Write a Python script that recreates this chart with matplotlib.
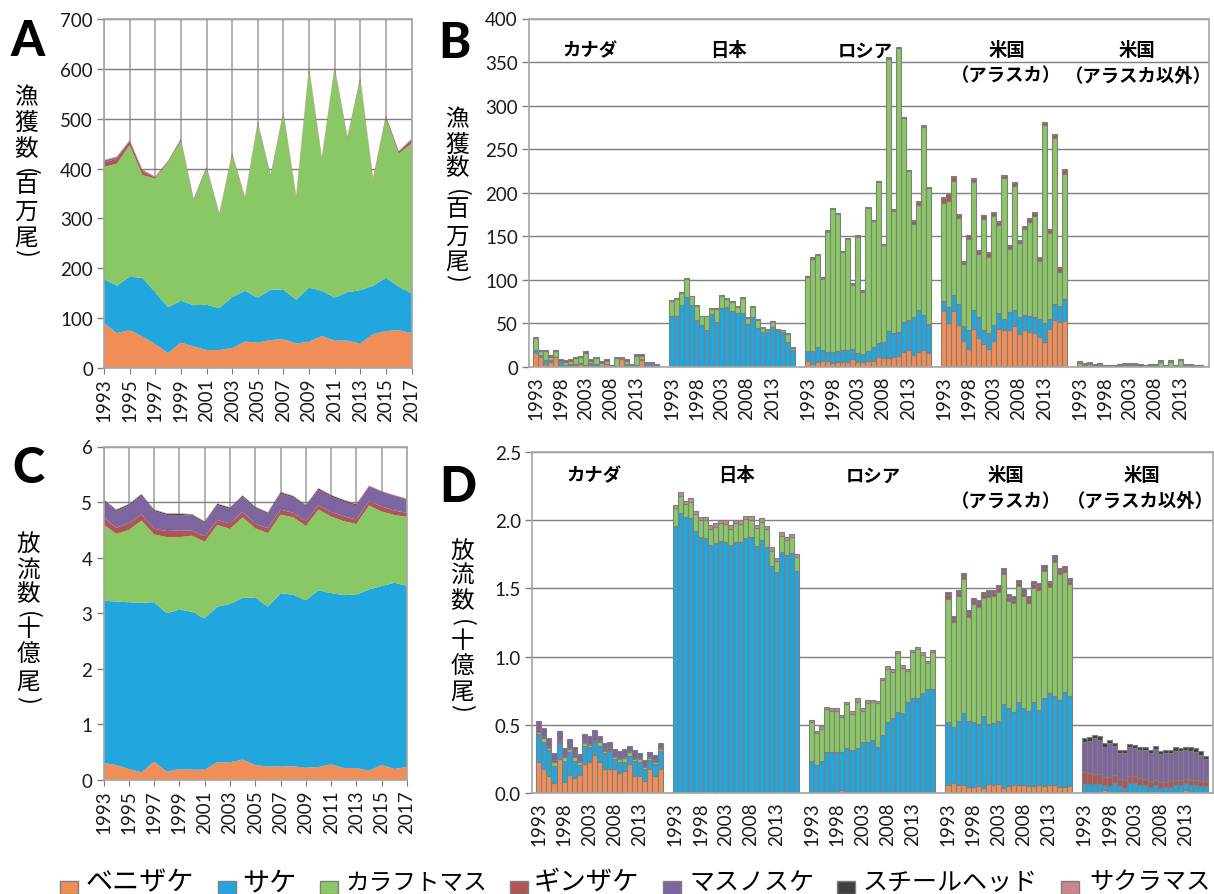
import numpy as np
import matplotlib
matplotlib.use('Agg')
import matplotlib.pyplot as plt
from matplotlib.patches import Rectangle

W, H = 1214, 895
JP = 'Noto Sans CJK JP'
plt.rcParams['font.family'] = ['Lato', JP, 'DejaVu Sans']

years = list(range(1993, 2018))

species = ['ベニザケ', 'サケ', 'カラフトマス', 'ギンザケ', 'マスノスケ', 'スチールヘッド', 'サクラマス']
colors = ['#F18D56', '#21A7DE', '#8AC765', '#B05555', '#7E659F', '#404040', '#C9878B']
GRAY = '#7f7f7f'
GRID = '#a6a6a6'

# panel A, catch by species, all countries (millions)
a_sockeye = [90, 70, 76, 63, 48, 30, 51, 43, 36, 36, 40, 53, 51, 56, 58, 49, 53, 64, 55, 55, 49, 68, 74, 76, 70]
a_chum = [88, 95, 107, 118, 104, 92, 84, 83, 91, 84, 102, 102, 90, 101, 99, 88, 108, 91, 86, 97, 107, 97, 107, 87, 80]
a_pink = [225, 245, 264, 206, 228, 290, 320, 210, 273, 187, 285, 185, 349, 228, 353, 206, 439, 263, 459, 308, 421, 212, 319, 267, 300]
a_coho = [9, 10, 8, 8, 2, 2, 3, 2, 3, 2, 3, 2, 3, 2, 3, 2, 3, 3, 3, 3, 4, 3, 5, 4, 8]
a_chinook = [4, 3, 1, 2, 1, 1, 1, .5, .5, .5, .5, .5, .5, .5, .5, .5, .5, .5, .5, .5, .5, .5, .5, .5, .5]
a_steelhead = [.2] * 25
a_masu = [1, 1, 1, 1, 1, 1, 1, .8, .8, .8, .8, .8, .8, .8, .8, .8, .8, .8, .8, .8, .8, .8, .8, .8, 1]

# panel C, release by species (billions)
c_sockeye = [.306, .27, .198, .138, .33, .15, .198, .186, .186, .318, .318, .366, .27, .24, .246, .246, .222, .234, .282, .216, .216, .168, .27, .198, .234]
c_chum = [2.92, 2.94, 3.00, 3.05, 2.87, 2.85, 2.87, 2.84, 2.72, 2.80, 2.85, 2.91, 3.01, 2.88, 3.11, 3.09, 3.01, 3.18, 3.08, 3.11, 3.12, 3.26, 3.22, 3.35, 3.26]
c_pink = [1.37, 1.22, 1.30, 1.48, 1.22, 1.37, 1.30, 1.37, 1.38, 1.47, 1.35, 1.45, 1.25, 1.32, 1.42, 1.39, 1.34, 1.45, 1.38, 1.33, 1.27, 1.51, 1.34, 1.22, 1.24]
c_coho = [.13, .11, .12, .11, .10, .11, .12, .09, .10, .09, .10, .10, .08, .09, .09, .08, .09, .08, .08, .09, .08, .08, .09, .08, .07]
c_chinook = [.30, .30, .32, .34, .32, .29, .28, .27, .24, .27, .26, .27, .28, .26, .29, .28, .26, .28, .28, .27, .25, .26, .26, .26, .24]
c_steelhead = [.02, .02, .02, .02, .02, .02, .02, .02, .02, .02, .02, .02, .02, .02, .02, .02, .02, .02, .02, .02, .02, .01, .01, .01, .01]
c_masu = [.01] * 25

# panel B, catch by country
b_can_sockeye = [16, 11, 4, 6, 11, 1, 1, 2, 2, 3, 1, 2, 1, .5, 3, .3, 1, 9, 1, .3, 1, 8, 1, 1, .3]
b_can_chum = [4, 3, 4, 2, 1, 5, 1, 1, 1, 2, 1, 3, 3, 1, 1, .5, .5, .5, 2, .5, 1, 1, 2, 2, 1]
b_can_pink = [13, 4, 10, 4, 6, 1, 4, 4, 7, 6, 14, 2, 6, 3.5, 3, .5, 8.5, .5, 4, 1.5, 11, 4, 1.5, 1.5, 1.5]
b_can_coho = [2, 2, 2, 2, 2, 2, 2, 2, 2, 2, 2, 2, 2, 2, 2, .7, 2, 2, 2, .7, 2, 2, 1.5, 1.5, 1.2]

b_jpn_chum = [58, 58, 71, 80, 71, 54, 48, 42, 61, 52, 68, 69, 64, 62, 62, 49, 57, 45, 40, 40, 46, 41, 40, 29, 20]
b_jpn_pink = [18, 20, 14, 21, 10, 16, 10, 16, 6, 15, 14, 9, 11, 7, 17, 7, 12, 9, 5, 3, 6, 2, 2, 9, 2]
b_jpn_masu = [1, 1, 1, 1, 1, 1, 1, 1, 1, 1, 1, 1, 1, 1, 1, 1, 1, 1, 1, 1, 1, 1, 1, 1, 1]

b_rus_sockeye = [7, 4, 6, 7, 6.5, 5, 6, 6, 6, 9, 6, 6, 7, 7, 11, 10, 10, 11, 13, 17, 19, 14, 17, 20, 16]
b_rus_chum = [11, 14, 17, 13, 10.5, 12, 12, 14, 13, 12, 10, 9, 11, 16, 16, 19, 31, 28, 27, 35, 35, 43, 48, 40, 33]
b_rus_pink = [85.5, 106.5, 105.5, 81.5, 138.5, 164.5, 157.5, 111.5, 127.5, 73.5, 133.5, 71.5, 164.5, 144.5, 185.5, 110.5, 313, 140.5, 326, 234, 171, 107, 121, 216, 156]
b_rus_coho = [.5, .5, .5, .5, .5, .5, .5, .5, .5, .5, .5, .5, .5, .5, .5, .5, .5, .5, .5, .5, .5, 4, 3, 1, 1]
b_rus_masu = [1, 1, 1, 1, 1, 1, 1, 1, 1, 1, 1, 1, 1, 1, 1, 1, 1, 1, 1, 1, 1, 1, 1, 1, 1]

b_ala_sockeye = [64, 51, 64, 48, 30, 21, 44, 33, 26, 21, 30, 44, 42, 42, 47, 38, 42, 40, 39, 34, 29, 44, 54, 52, 53]
b_ala_chum = [12, 17.5, 19, 24, 17, 21, 21, 24, 16, 17.6, 18, 17.6, 12.6, 21, 18, 19, 18, 19, 18, 21, 21.5, 11.4, 18, 17.6, 25]
b_ala_pink = [112, 122, 130, 99, 71, 105, 147, 73, 128, 88, 125, 101, 162, 73, 143, 85, 98, 107, 116, 67, 227, 98, 191, 39, 144]
b_ala_coho = [6, 8, 5, 4, 3, 4, 4, 3, 4, 4, 4, 4, 3, 3, 3, 3, 3, 4, 4, 3, 3, 4, 3, 5, 4]
b_ala_chinook = [1, 1, 1, 1, 1, 1, 1, 1, 1, 1, 1, 1, 1, 1, 1, 1, 1, 1, 1, 1, 1, 1, 1, 1, 1]

b_usa_chum = [1.5, 1, 1, .5, .5, .5, .2, .2, .5, .5, .5, .5, .5, .5, .5, .5, .5, .5, .5, .5, .5, .5, .5, .5, .5]
b_usa_pink = [3, 1, 2, .5, 1.5, .5, .3, .3, 1, 1.5, 1.5, 1.5, 1, .5, 1, .5, 5.5, .5, 5, .5, 7.5, 1.5, .5, .5, .5]
b_usa_coho = [1.5, 1.5, 2, 1, 1.5, 1, 1, 1, 1.5, 1.5, 1.5, 1.5, 1.5, 1, 1.5, 1.5, 1, 1, 1.5, 1, 1, 1.5, 1.5, 1, 1]
b_usa_chinook = [1, 1, .8, 1, 1, .5, .5, .5, .5, 1, 1, 1, 1, .5, 1, .5, .5, .5, .5, .5, .5, .5, .5, .5, .5]

# panel D, release by country
d_can_sockeye = [.23, .176, .127, .071, .249, .078, .132, .110, .132, .213, .225, .279, .225, .176, .176, .176, .147, .164, .210, .127, .127, .086, .176, .127, .176]
d_can_chum = [.203, .196, .188, .129, .115, .154, .166, .127, .073, .134, .110, .093, .122, .117, .130, .073, .083, .061, .059, .105, .098, .090, .066, .086, .135]
d_can_pink = [.017, .034, .015, .029, .007, .029, .024, .024, .020, .020, .017, .012, .024, .017, .012, .012, .020, .029, .032, .017, .022, .012, .012, .017, .012]
d_can_coho = [.02, .01, .015, .01, .015, .015, .01, .015, .01, .01, .01, .005, .01, .01, .01, .008, .01, .01, .01, .01, .01, .008, .008, .012, .01]
d_can_chinook = [.057, .062, .059, .055, .067, .055, .065, .06, .052, .059, .059, .072, .036, .048, .047, .057, .047, .055, .032, .055, .037, .044, .037, .033, .035]

d_jpn_chum = [1.956, 2.051, 2.022, 2.015, 1.924, 1.875, 1.868, 1.819, 1.831, 1.851, 1.839, 1.819, 1.843, 1.843, 1.868, 1.875, 1.814, 1.856, 1.802, 1.663, 1.619, 1.765, 1.748, 1.760, 1.631]
d_jpn_pink = [.13, .13, .10, .12, .12, .13, .13, .12, .12, .13, .13, .12, .14, .13, .14, .13, .13, .13, .13, .11, .08, .12, .11, .12, .10]
d_jpn_masu = [.026, .024, .022, .026, .027, .022, .029, .027, .029, .024, .029, .027, .022, .025, .026, .029, .022, .029, .024, .029, .022, .025, .022, .022, .022]

d_rus_sockeye = [.004, .004, .004, .004, .004, .004, .02, .004, .004, .006, .004, .004, .004, .004, .006, .006, .006, .006, .006, .006, .006, .006, .006, .006, .004]
d_rus_chum = [.228, .204, .228, .299, .299, .294, .278, .326, .314, .324, .368, .368, .385, .336, .419, .512, .542, .591, .581, .659, .688, .688, .725, .757, .759]
d_rus_pink = [.29, .23, .24, .31, .30, .30, .26, .32, .26, .34, .23, .29, .28, .32, .40, .39, .34, .43, .33, .23, .34, .36, .28, .19, .27]
d_rus_masu = [.016, .019, .022, .015, .018, .023, .017, .02, .021, .024, .019, .023, .016, .017, .019, .021, .022, .017, .024, .015, .015, .017, .021, .015, .016]

d_ala_sockeye = [.06, .073, .06, .06, .046, .046, .054, .037, .066, .06, .066, .039, .054, .06, .06, .056, .054, .054, .06, .054, .06, .06, .046, .046, .05]
d_ala_chum = [.463, .409, .471, .527, .485, .477, .452, .525, .44, .453, .46, .614, .567, .532, .605, .565, .55, .611, .551, .64, .671, .654, .636, .692, .659]
d_ala_pink = [.90, .77, .91, .98, .76, .86, .86, .87, .93, .93, .95, .95, .79, .80, .85, .82, .79, .84, .88, .93, .78, .98, .92, .88, .82]
d_ala_coho = [.025, .025, .025, .025, .025, .025, .025, .025, .025, .025, .025, .025, .025, .025, .025, .025, .025, .025, .025, .025, .025, .025, .025, .025, .025]
d_ala_chinook = [.029, .024, .025, .022, .029, .022, .027, .02, .026, .023, .025, .02, .024, .026, .025, .03, .028, .027, .022, .023, .021, .027, .026, .024, .02]

d_usa_sockeye = [.005, .005, .005, .01, .02, .01, .005, .005, .015, .005, .01, .005, .01, .01, .005, .005, .005, .005, .005, .005, .02, .005, .005, .005, .005]
d_usa_chum = [.061, .061, .061, .056, .036, .04, .068, .045, .025, .068, .063, .055, .05, .036, .055, .035, .041, .041, .055, .055, .053, .055, .051, .045, .045]
d_usa_coho = [.086, .081, .076, .071, .061, .067, .061, .053, .053, .054, .049, .048, .043, .042, .038, .038, .037, .042, .033, .038, .03, .038, .037, .038, .038]
d_usa_chinook = [.224, .236, .261, .254, .222, .247, .208, .187, .197, .207, .207, .207, .212, .202, .224, .207, .207, .205, .217, .21, .212, .212, .21, .193, .161]
d_usa_steelhead = [.025] * 25

# species index -> values, one dict per country
b_groups = [
    {0: b_can_sockeye, 1: b_can_chum, 2: b_can_pink, 3: b_can_coho},
    {1: b_jpn_chum, 2: b_jpn_pink, 6: b_jpn_masu},
    {0: b_rus_sockeye, 1: b_rus_chum, 2: b_rus_pink, 3: b_rus_coho, 6: b_rus_masu},
    {0: b_ala_sockeye, 1: b_ala_chum, 2: b_ala_pink, 3: b_ala_coho, 4: b_ala_chinook},
    {1: b_usa_chum, 2: b_usa_pink, 3: b_usa_coho, 4: b_usa_chinook},
]
d_groups = [
    {0: d_can_sockeye, 1: d_can_chum, 2: d_can_pink, 3: d_can_coho, 4: d_can_chinook},
    {1: d_jpn_chum, 2: d_jpn_pink, 6: d_jpn_masu},
    {0: d_rus_sockeye, 1: d_rus_chum, 2: d_rus_pink, 6: d_rus_masu},
    {0: d_ala_sockeye, 1: d_ala_chum, 2: d_ala_pink, 3: d_ala_coho, 4: d_ala_chinook},
    {0: d_usa_sockeye, 1: d_usa_chum, 3: d_usa_coho, 4: d_usa_chinook, 5: d_usa_steelhead},
]

GROUP_STEP = 27  # 25 years plus the blank categories between countries

fig = plt.figure(figsize=(W / 100, H / 100), dpi=100)


def px_axes(left, top, right, bottom):
    return fig.add_axes([left / W, 1 - bottom / H, (right - left) / W, (bottom - top) / H])


def px_text(x, y, s, **kw):
    kw.setdefault('ha', 'center')
    kw.setdefault('va', 'center')
    kw.setdefault('family', [JP, 'DejaVu Sans'])
    return fig.text(x / W, 1 - y / H, s, **kw)


def vertical_label(x, chars, ys):
    # the source has upright kanji with turned brackets, so one text per sign
    for ch, y in zip(chars, ys):
        px_text(x, y, ch, fontsize=17, color='black', rotation=270 if ch in '()' else 0)


def style_axes(ax, ticks, fmt=None):
    ax.set_yticks(ticks)
    if fmt:
        ax.set_yticklabels([fmt % t for t in ticks])
    ax.set_ylim(ticks[0], ticks[-1])
    ax.tick_params(axis='y', length=5, color=GRAY, width=1, labelsize=13.5, pad=3, labelcolor='#1a1a1a')
    ax.grid(axis='y', color=GRAY, lw=1)
    ax.set_axisbelow(True)
    for s in ax.spines.values():
        s.set_color(GRID)
        s.set_linewidth(1.2)


def area_panel(box, stacks, ticks):
    ax = px_axes(*box)
    ax.stackplot(years, stacks, colors=colors, lw=0)
    ax.set_xlim(1993, 2017)
    style_axes(ax, ticks)
    ax.set_xticks(years[::2])
    ax.set_xticklabels(years[::2], rotation=90)
    ax.tick_params(axis='x', length=4, color=GRAY, labelsize=13.5, pad=3, labelcolor='#1a1a1a')
    ax.grid(axis='x', color=GRID, lw=1.2)
    return ax


def bar_panel(box, groups, ticks, xlim, fmt=None):
    ax = px_axes(*box)
    for g, group in enumerate(groups):
        x = np.arange(25) + g * GROUP_STEP
        bottom = np.zeros(25)
        for idx in sorted(group):
            vals = np.array(group[idx], dtype=float)
            ax.bar(x, vals, bottom=bottom, width=1.0, color=colors[idx], edgecolor=GRAY, linewidth=0.8)
            bottom += vals
    ax.set_xlim(*xlim)
    style_axes(ax, ticks, fmt)
    tick_x = [g * GROUP_STEP + i for g in range(len(groups)) for i in range(0, 25, 5)]
    ax.set_xticks(tick_x)
    ax.set_xticklabels([1993 + i for g in range(len(groups)) for i in range(0, 25, 5)], rotation=90)
    ax.tick_params(axis='x', length=0, labelsize=13.5, pad=6, labelcolor='#1a1a1a')
    return ax


area_panel((104, 20, 411.5, 369),
           [a_sockeye, a_chum, a_pink, a_coho, a_chinook, a_steelhead, a_masu],
           [0, 100, 200, 300, 400, 500, 600, 700])
area_panel((103.5, 447.5, 407, 781),
           [c_sockeye, c_chum, c_pink, c_coho, c_chinook, c_steelhead, c_masu],
           [0, 1, 2, 3, 4, 5, 6])
bar_panel((529, 19.5, 1209, 368), b_groups, [0, 50, 100, 150, 200, 250, 300, 350, 400], (-1.3, 133.7))
bar_panel((532, 453, 1212.7, 794), d_groups, [0, .5, 1, 1.5, 2, 2.5], (-1.35, 133.4), fmt='%.1f')

# panel letters
for letter, x, y in [('A', 27, 41), ('B', 454, 43), ('C', 28, 469), ('D', 458, 488)]:
    px_text(x, y, letter, family='Lato', fontsize=35, fontweight='black', color='black')

vertical_label(26, '漁獲数(百万尾)', [98, 123, 150, 172, 185, 212, 238, 253])
vertical_label(457, '漁獲数(百万尾)', [120, 145, 169, 193, 210, 237, 262, 278])
vertical_label(28, '放流数(十億尾)', [545, 570, 595, 615, 630, 655, 682, 700])
vertical_label(462, '放流数(十億尾)', [552, 575, 602, 623, 642, 667, 692, 708])

# country captions above the bars
for x, y, s in [(590, 51, 'カナダ'), (729, 51, '日本'), (865, 51, 'ロシア'), (1007, 51, '米国'),
                (1006, 76, '（アラスカ）'), (1137, 51, '米国'), (1138, 76, '（アラスカ以外）'),
                (594, 476, 'カナダ'), (737, 476, '日本'), (873, 476, 'ロシア'), (1006, 476, '米国'),
                (1006, 502, '（アラスカ）'), (1142, 476, '米国'), (1140, 502, '（アラスカ以外）')]:
    px_text(x, y, s, fontsize=13.2, fontweight='bold', color='black')

# legend along the bottom edge, swatches run off the picture like the source
swatch_x = [60, 218, 320, 510, 663, 837, 1061]
label_x = [86, 242, 345, 534, 689, 863, 1089]
label_size = [19.5, 19.5, 17, 19, 18, 18, 17.5]
for sx, lx, fs, name, col in zip(swatch_x, label_x, label_size, species, colors):
    fig.add_artist(Rectangle((sx / W, 0), 18 / W, 13 / H, transform=fig.transFigure,
                             facecolor=col, edgecolor=GRAY, lw=1))
    px_text(lx, 883, name, ha='left', fontsize=fs, color='black')

fig.savefig('out.png', dpi=100, facecolor='white')
